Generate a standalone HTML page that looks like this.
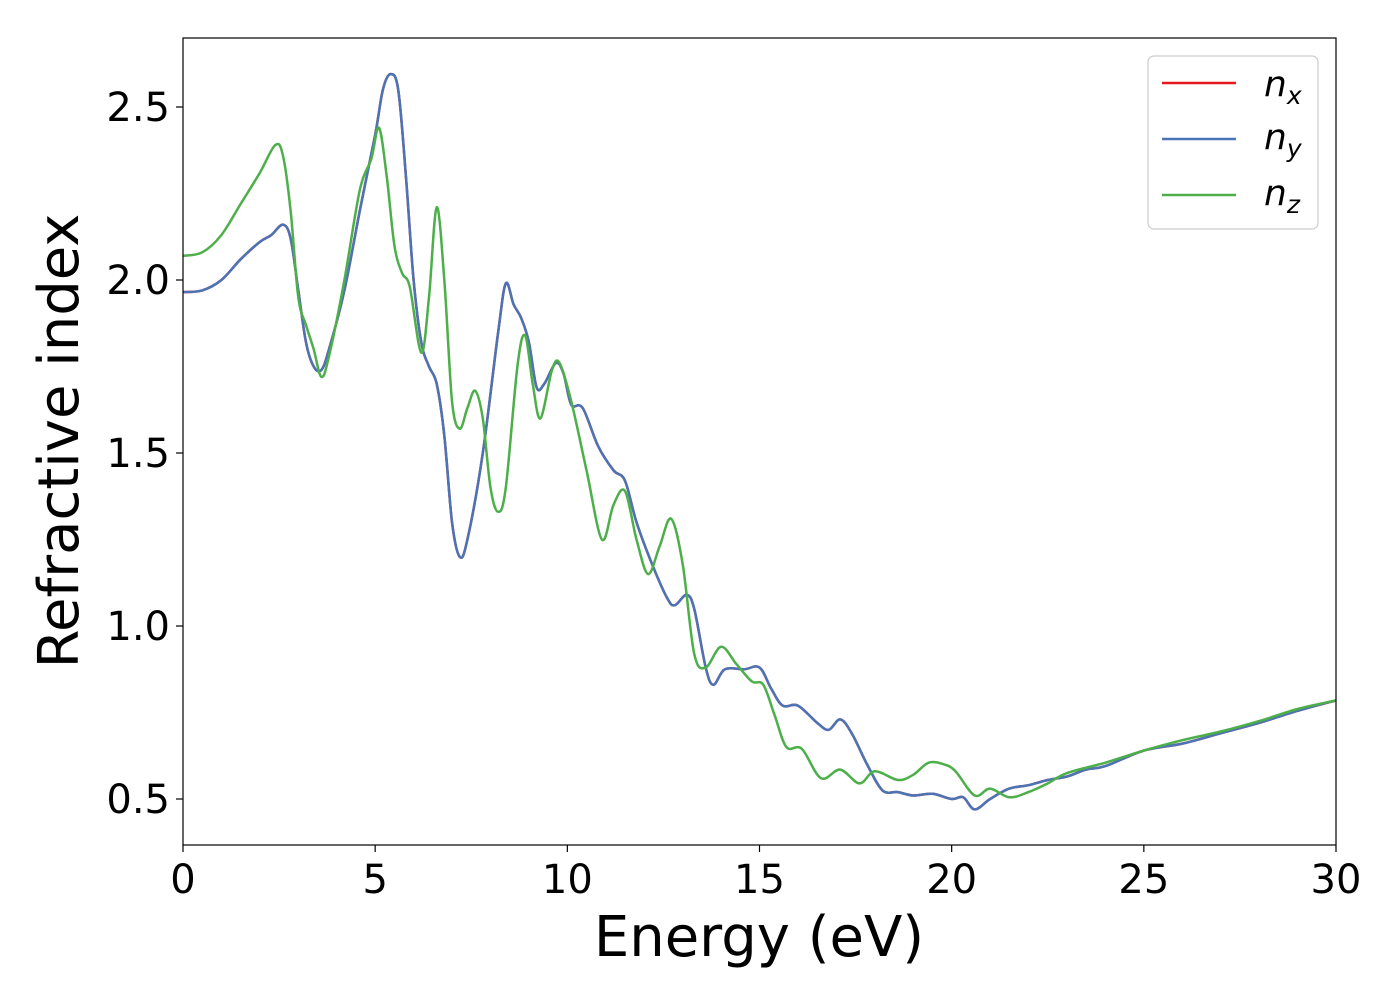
<!DOCTYPE html>
<html><head><meta charset="utf-8">
<style>
html,body{margin:0;padding:0;background:#fff;}
svg{display:block;font-family:"DejaVu Sans","Liberation Sans",sans-serif;}
</style></head>
<body>
<svg id="chart" width="1400" height="1000" viewBox="0 0 1400 1000">
  <rect x="0" y="0" width="1400" height="1000" fill="#fff"/>
  <g id="series"></g>
  <rect x="183" y="38" width="1153" height="807" fill="none" stroke="#000" stroke-width="1.2"/>
  <g id="xticks"></g>
  <g id="yticks"></g>
  <text x="759" y="956" font-size="56" text-anchor="middle">Energy (eV)</text>
  <text transform="translate(78,441) rotate(-90)" font-size="56" text-anchor="middle">Refractive index</text>
  <g>
    <rect x="1148" y="56" width="170" height="173" rx="6" fill="#fff" fill-opacity="0.8" stroke="#ccc" stroke-width="1.2"/>
    <g>
      <line x1="1162" y1="83" x2="1236" y2="83" stroke="#e41a1c" stroke-width="2.5"/>
      <text x="1264" y="96" font-size="36" font-style="italic">n<tspan font-size="25" dy="8">x</tspan></text>
    </g>
    <g>
      <line x1="1162" y1="139" x2="1236" y2="139" stroke="#4a74b5" stroke-width="2.5"/>
      <text x="1264" y="149" font-size="36" font-style="italic">n<tspan font-size="25" dy="8">y</tspan></text>
    </g>
    <g>
      <line x1="1162" y1="195" x2="1236" y2="195" stroke="#4daf4a" stroke-width="2.5"/>
      <text x="1264" y="205" font-size="36" font-style="italic">n<tspan font-size="25" dy="8">z</tspan></text>
    </g>
  </g>
</svg>
<script>
const xTicks = [0,5,10,15,20,25,30];
const yTicks = [0.5,1.0,1.5,2.0,2.5];
const yTickLabels = ["0.5","1.0","1.5","2.0","2.5"];
const energyXY = [0,0.5,1,1.5,2,2.3,2.6,2.8,3.0,3.2,3.4,3.6,3.8,4.2,4.6,5.0,5.2,5.4,5.6,5.8,6.0,6.2,6.4,6.6,6.8,7.0,7.2,7.4,7.8,8.2,8.4,8.6,8.8,9.0,9.2,9.4,9.7,9.9,10.1,10.4,10.8,11.2,11.5,11.8,12.2,12.6,12.8,13.1,13.3,13.6,13.8,14.1,14.6,15.0,15.3,15.6,16.0,16.5,16.8,17.1,17.4,17.8,18.2,18.6,19.0,19.5,20.0,20.3,20.6,21.0,21.5,22.0,22.5,23,23.5,24,25,26,27,28,29,30];
const nxValues = [1.965,1.97,2.0,2.06,2.11,2.13,2.16,2.12,1.97,1.82,1.75,1.74,1.80,1.97,2.2,2.42,2.55,2.595,2.55,2.3,2.0,1.82,1.75,1.70,1.55,1.3,1.2,1.25,1.5,1.85,1.99,1.93,1.89,1.82,1.69,1.70,1.76,1.73,1.64,1.63,1.52,1.45,1.42,1.30,1.18,1.08,1.06,1.09,1.05,0.88,0.83,0.875,0.875,0.88,0.82,0.77,0.77,0.72,0.70,0.73,0.69,0.60,0.525,0.52,0.51,0.515,0.50,0.505,0.47,0.50,0.53,0.54,0.555,0.565,0.585,0.595,0.64,0.66,0.69,0.72,0.755,0.785];
const nyValues = nxValues.slice();
const energyZ = [0,0.5,1,1.5,2,2.4,2.6,2.8,3.0,3.2,3.4,3.6,3.8,4.2,4.6,4.9,5.1,5.3,5.5,5.7,5.9,6.2,6.4,6.6,6.8,7.0,7.2,7.4,7.6,7.8,8.0,8.2,8.4,8.7,8.9,9.1,9.3,9.6,9.8,10.1,10.5,10.9,11.2,11.5,11.8,12.1,12.4,12.7,13.0,13.3,13.6,14.0,14.4,14.8,15.1,15.4,15.7,16.1,16.6,17.1,17.6,18.0,18.6,19.0,19.4,19.8,20.1,20.6,21.0,21.5,22.0,22.5,23,24,25,26,27,28,29,30];
const nzValues = [2.07,2.08,2.13,2.22,2.31,2.39,2.36,2.2,1.95,1.87,1.80,1.72,1.78,2.0,2.26,2.35,2.44,2.3,2.1,2.02,1.98,1.79,1.95,2.21,2.0,1.65,1.57,1.63,1.68,1.60,1.40,1.33,1.40,1.75,1.84,1.70,1.60,1.74,1.76,1.65,1.45,1.25,1.35,1.39,1.25,1.15,1.23,1.31,1.18,0.92,0.88,0.94,0.89,0.84,0.83,0.74,0.65,0.645,0.56,0.585,0.545,0.58,0.555,0.57,0.605,0.60,0.58,0.51,0.53,0.505,0.52,0.545,0.575,0.605,0.64,0.67,0.695,0.725,0.76,0.785];

const NS = "http://www.w3.org/2000/svg";
const X0=183, X1=1336, XMIN=0, XMAX=30;
const Y_REF=107, Y_REFV=2.5, PX_PER=346;
function xs(v){ return X0 + (v-XMIN)/(XMAX-XMIN)*(X1-X0); }
function ys(v){ return Y_REF - (v-Y_REFV)*PX_PER; }

function pathFor(xd, yd){
  const p = xd.map((x,i)=>[xs(x), ys(yd[i])]);
  let d = "M"+p[0][0].toFixed(1)+","+p[0][1].toFixed(1);
  for(let i=0;i<p.length-1;i++){
    const a=p[i-1]||p[i], b=p[i], c=p[i+1], e=p[i+2]||c;
    const c1=[b[0]+(c[0]-a[0])/6, b[1]+(c[1]-a[1])/6];
    const c2=[c[0]-(e[0]-b[0])/6, c[1]-(e[1]-b[1])/6];
    d += " C"+c1[0].toFixed(1)+","+c1[1].toFixed(1)+" "+c2[0].toFixed(1)+","+c2[1].toFixed(1)+" "+c[0].toFixed(1)+","+c[1].toFixed(1);
  }
  return d;
}
const sg = document.getElementById("series");
const defs = document.createElementNS(NS,"clipPath");
defs.setAttribute("id","clip");
const cr = document.createElementNS(NS,"rect");
cr.setAttribute("x",X0); cr.setAttribute("y",38); cr.setAttribute("width",X1-X0); cr.setAttribute("height",807);
defs.appendChild(cr); sg.appendChild(defs);
sg.setAttribute("clip-path","url(#clip)");
function addLine(xd, yd, color, name){
  const el = document.createElementNS(NS,"path");
  el.setAttribute("d", pathFor(xd,yd));
  el.setAttribute("fill","none");
  el.setAttribute("stroke",color);
  el.setAttribute("stroke-width","2.5");
  
  
  sg.appendChild(el);
}
addLine(energyXY, nxValues, "#e41a1c", "series-nx");
addLine(energyXY, nyValues, "#4a74b5", "series-ny");
addLine(energyZ, nzValues, "#4daf4a", "series-nz");

const xg = document.getElementById("xticks");
xTicks.forEach(t=>{
  const x = xs(t);
  const ln = document.createElementNS(NS,"line");
  ln.setAttribute("x1",x); ln.setAttribute("x2",x); ln.setAttribute("y1",845); ln.setAttribute("y2",852);
  ln.setAttribute("stroke","#000"); ln.setAttribute("stroke-width","1.2");
  
  
  xg.appendChild(ln);
  const tx = document.createElementNS(NS,"text");
  tx.setAttribute("x",x); tx.setAttribute("y",893);
  tx.setAttribute("font-size","40"); tx.setAttribute("text-anchor","middle");
  tx.textContent = String(t);
  
  
  xg.appendChild(tx);
});
const yg = document.getElementById("yticks");
yTicks.forEach((t,i)=>{
  const y = ys(t);
  const ln = document.createElementNS(NS,"line");
  ln.setAttribute("x1",176); ln.setAttribute("x2",183); ln.setAttribute("y1",y); ln.setAttribute("y2",y);
  ln.setAttribute("stroke","#000"); ln.setAttribute("stroke-width","1.2");
  
  
  yg.appendChild(ln);
  const tx = document.createElementNS(NS,"text");
  tx.setAttribute("x",170); tx.setAttribute("y",y+14);
  tx.setAttribute("font-size","40"); tx.setAttribute("text-anchor","end");
  tx.textContent = yTickLabels[i];
  
  
  yg.appendChild(tx);
});
</script>
</body></html>
